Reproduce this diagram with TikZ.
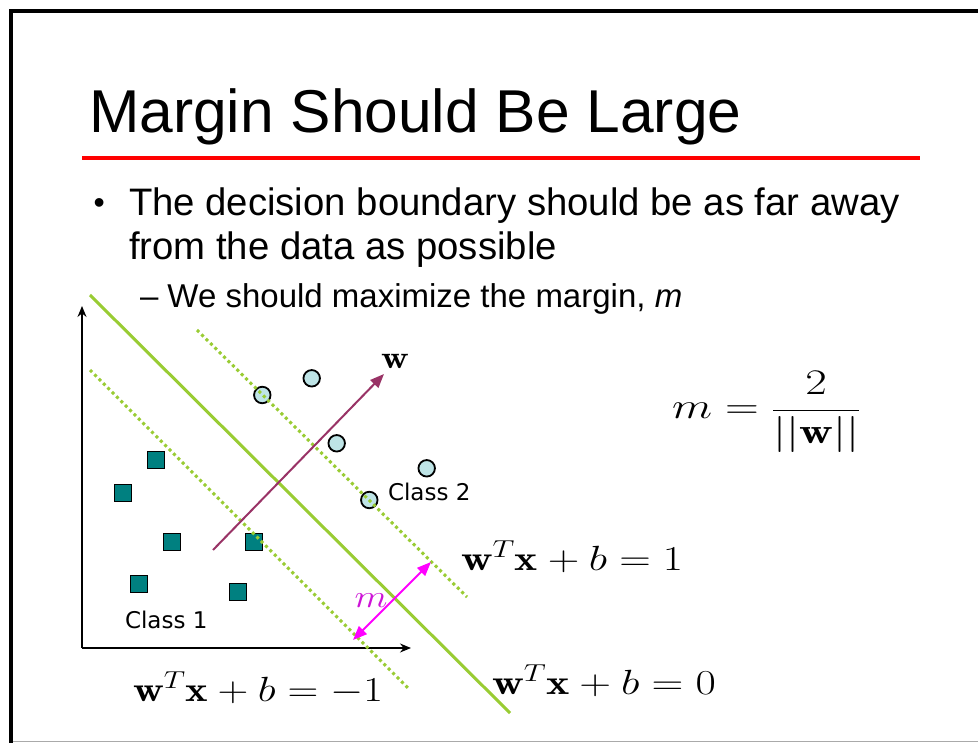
\RequirePackage{fix-cm}
\documentclass[tikz,border=0pt]{standalone}
\usepackage{fontspec}
\newfontfamily\arial{Liberation Sans}
\newfontfamily\classfont{DejaVu Sans}
\usetikzlibrary{arrows.meta}
\definecolor{lgreen}{RGB}{153,204,51}
\definecolor{sqfill}{RGB}{0,128,128}
\definecolor{cifill}{RGB}{190,228,230}
\definecolor{wpurple}{RGB}{153,51,102}
\definecolor{mmag}{RGB}{255,0,255}
\definecolor{mlabel}{RGB}{205,20,215}
\definecolor{framegray}{RGB}{170,170,170}
\tikzset{
  txt/.style={inner sep=0pt, outer sep=0pt, anchor=base west},
  sqpt/.style={draw=black, fill=sqfill, minimum size=17pt, inner sep=0pt, line width=1.3pt},
  cipt/.style={circle, draw=black, fill=cifill, minimum size=16.5pt, inner sep=0pt, line width=1.8pt},
  boundary/.style={draw=lgreen, line width=3pt},
  marginline/.style={draw=lgreen, line width=3pt, dash pattern=on 3pt off 3.2pt},
  axis/.style={draw=black, line width=1.5pt, -{Stealth[length=11pt,width=9pt]}},
  warrow/.style={draw=wpurple, line width=2pt, -{Triangle[length=14pt,width=11pt]}},
  marrow/.style={draw=mmag, line width=2pt, {Triangle[length=14pt,width=11pt]}-{Triangle[length=14pt,width=11pt]}}
}
\newcommand{\mathsz}[3]{\fontsize{#1}{#1}\selectfont\scalebox{#2}[1]{$#3$}}
\begin{document}
\begin{tikzpicture}[x=1pt,y=-1pt]
\useasboundingbox (0,0) rectangle (978,743);
\fill[white] (0,0) rectangle (978,743);
% frame
\coordinate (fbl) at (11,745);
\coordinate (ftl) at (11,11);
\coordinate (ftr) at (980,11);
\coordinate (fbr) at (980,741.5);
\draw[framegray, line width=1.5pt] (fbl|-fbr) -- (fbr);
\draw[black, line width=4.3pt] (fbl) -- (ftl) -- (ftr);
% title
\node[txt, font=\arial\fontsize{60.5}{60.5}\selectfont] (title) at (89,133) {Margin Should Be Large};
\coordinate (redl) at (82,158);
\coordinate (redr) at (920,158);
\draw[red, line width=3.5pt] (redl) -- (redr);
% bullets
\node[txt, font=\arial\fontsize{32}{32}\selectfont] (bul) at (93.5,214) {•};
\node[txt, font=\arial\fontsize{38.3}{38.3}\selectfont] (l1) at (129,216) {The decision boundary should be as far away};
\node[txt, font=\arial\fontsize{38.3}{38.3}\selectfont] (l2) at (129,260) {from the data as possible};
\node[txt, font=\arial\fontsize{33}{33}\selectfont] (l3) at (140,308) {– We should maximize the margin, {\itshape m}};
% axes
\coordinate (O) at (82,648);
\coordinate (ytip) at (82,306);
\coordinate (xtip) at (411,648);
\draw[axis] (O) -- (ytip);
\draw[axis] (O) -- (xtip);
% class 1 squares
\node[sqpt] (s1) at (155.7,460) {};
\node[sqpt] (s2) at (123.3,493.3) {};
\node[sqpt] (s3) at (171.7,541.7) {};
\node[sqpt] (s4) at (254.3,541.7) {};
\node[sqpt] (s5) at (139.3,584) {};
\node[sqpt] (s6) at (237.7,592.3) {};
% class 2 circles
\node[cipt] (c1) at (262.3,395) {};
\node[cipt] (c2) at (311.7,378.3) {};
\node[cipt] (c3) at (336.7,443.3) {};
\node[cipt] (c4) at (426.7,468.3) {};
\node[cipt] (c5) at (369.3,500) {};
% lines
\coordinate (b0a) at (90,295);
\coordinate (b0b) at (510,713);
\coordinate (bpa) at (197,330);
\coordinate (bpb) at (467,597);
\coordinate (bma) at (90,370);
\coordinate (bmb) at (410,690);
\draw[boundary] (b0a) -- (b0b);
\draw[marginline] (bpa) -- (bpb);
\draw[marginline] (bma) -- (bmb);
% w arrow
\coordinate (wa) at (213,550);
\coordinate (wb) at (384,374);
\draw[warrow] (wa) -- (wb);
\node[inner sep=0pt] (wlab) at (395,361) {\mathsz{32}{1.2}{\mathbf{w}}};
% margin arrow
\coordinate (ma) at (353,640);
\coordinate (mb) at (431,562);
\draw[marrow] (ma) -- (mb);
\node[inner sep=0pt, text=mlabel] (mlab) at (371,601) {\mathsz{32}{1.2}{m}};
% class labels
\node[txt, font=\classfont\fontsize{23}{23}\selectfont] (cl1) at (125,628) {Class 1};
\node[txt, font=\classfont\fontsize{23}{23}\selectfont] (cl2) at (388,500) {Class 2};
% equations
\node[txt] (eqm) at (133,701) {\mathsz{35}{1.22}{\mathbf{w}^T\mathbf{x}+b=-1}};
\node[txt] (eqp) at (461,570.5) {\mathsz{35}{1.25}{\mathbf{w}^T\mathbf{x}+b=1}};
\node[txt] (eqz) at (492,694) {\mathsz{35}{1.26}{\mathbf{w}^T\mathbf{x}+b=0}};
\node[txt] (eqmargin) at (672,419) {\mathsz{36}{1.3}{\displaystyle m=\frac{2}{||\mathbf{w}||}}};
\end{tikzpicture}
\end{document}
